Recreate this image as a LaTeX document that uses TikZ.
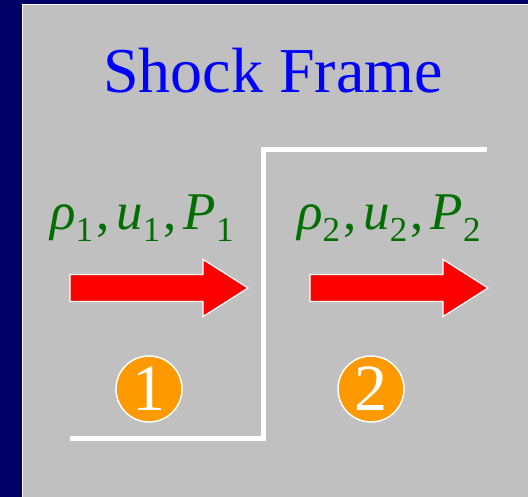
\documentclass[tikz,border=0pt]{standalone}
\usepackage{fontspec}
\setmainfont{Liberation Serif}
\usetikzlibrary{positioning}
\definecolor{navy}{RGB}{0,0,102}
\definecolor{silver}{RGB}{192,192,192}
\definecolor{leaf}{RGB}{0,110,0}
\definecolor{amber}{RGB}{255,153,0}
\tikzset{
  title/.style={text=blue,font=\fontsize{64}{70}\selectfont,inner sep=0pt},
  state/.style={text=leaf,font=\fontsize{53}{56}\selectfont,inner sep=0pt},
  badge/.style={circle,fill=amber,draw=white,line width=1.5pt,minimum size=66pt,
    inner sep=0pt,text=white,font=\fontsize{66}{66}\selectfont},
  front/.style={draw=white,line width=5pt},
  % pictograms
  pics/flow/.style={code={
    \filldraw[fill=red,draw=white,line width=1.2pt] (0,-13.5) -- (133,-13.5) -- (133,-28.5)
      -- (178,0) -- (133,28.5) -- (133,13.5) -- (0,13.5) -- cycle;
  }},
}
\newcommand{\statevar}[2]{\textit{#1}\raisebox{-12pt}{\fontsize{35}{35}\selectfont #2}}
\newcommand{\sep}{\kern3pt,\kern7pt}

\begin{document}
\begin{tikzpicture}[x=1pt,y=-1pt]
    \useasboundingbox (0,0) rectangle (528,497);
    \fill[navy] (0,0) rectangle (528,497);
    \filldraw[fill=silver,draw=white,line width=1pt] (22,5) rectangle (531,500);
    \node[title,anchor=base] (head) at (273,93) {Shock Frame};
    \node[state,anchor=base west] (s1) at (50,230) {\statevar{ρ}{1}\sep\statevar{u}{1}\sep\statevar{P}{1}};
    \node[state,anchor=base west] (s2) at (297,230) {\statevar{ρ}{2}\sep\statevar{u}{2}\sep\statevar{P}{2}};
    \pic at (70,288) {flow};
    \pic at (310,288) {flow};
    \draw[front] (70,438) -- (263,438) -- (263,150) -- (487,150);
    \node[badge] (n1) at (149,389) {1};
    \node[badge] (n2) at (371,389) {2};
\end{tikzpicture}
\end{document}
